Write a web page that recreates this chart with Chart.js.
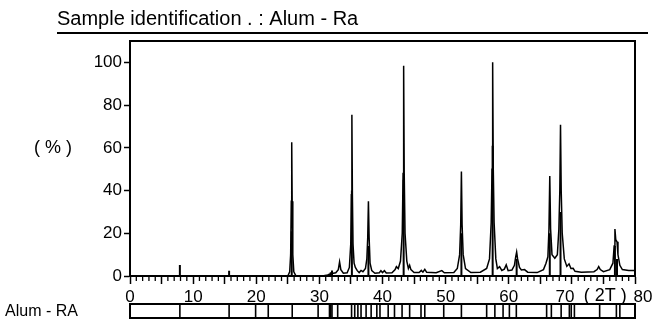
<!DOCTYPE html>
<html>
<head>
<meta charset="utf-8">
<script src="https://cdn.jsdelivr.net/npm/chart.js@4.4.0/dist/chart.umd.min.js"></script>
<style>
	html, body { margin: 0; padding: 0; background: #fff; }
	#wrap { width: 657px; height: 322px; }
</style>
</head>
<body>
<div id="wrap"><canvas id="xrd" width="657" height="322"></canvas></div>
<script>
var titleText = "Sample identification . : Alum - Ra";
var refName = "Alum - RA";

// measured scan: [2theta, relative intensity %]
var profile = [
	[0, 0], [25.0, 0], [25.3, 2], [25.45, 10], [25.55, 35], [25.62, 62.6], [25.69, 35], [25.79, 10], [25.95, 2], [26.3, 0],
	[30.5, 0], [31.3, 0.5], [32.0, 1.2], [32.6, 1.5], [33.0, 3], [33.2, 6.6], [33.4, 3], [33.8, 1.3], [34.4, 1.5],
	[34.75, 4], [34.97, 15], [35.07, 38], [35.15, 75.5], [35.23, 38], [35.33, 15], [35.5, 6], [35.7, 4], [36.0, 2.5],
	[36.3, 1.6], [36.6, 2.6], [36.9, 2], [37.3, 3.5], [37.52, 8], [37.66, 18], [37.77, 35], [37.88, 18], [38.03, 6],
	[38.3, 2.5], [38.8, 1.3], [39.5, 1.5], [39.75, 2.5], [40.0, 1.6], [40.3, 2.5], [40.6, 1.4], [41.5, 1.5],
	[42.0, 3], [42.2, 4.4], [42.5, 3.5], [42.85, 7], [43.13, 20], [43.26, 48], [43.35, 98.4], [43.44, 48], [43.57, 20],
	[43.85, 7], [44.1, 3.5], [44.3, 5], [44.5, 3], [45.0, 1.6], [45.8, 1.6], [46.15, 2.6], [46.4, 1.8], [46.7, 3.1],
	[47.0, 1.7], [48.5, 1.5], [49.4, 2.5], [49.8, 1.5], [51.3, 1.6], [51.85, 3.5], [52.22, 10], [52.39, 24], [52.5, 48.9],
	[52.61, 24], [52.78, 10], [53.15, 3.5], [54.0, 1.6], [55.5, 1.8], [56.5, 3.5], [56.95, 8], [57.22, 25], [57.35, 50],
	[57.45, 100], [57.55, 50], [57.68, 25], [57.95, 8], [58.2, 3.5], [58.55, 4.4], [58.9, 2.6], [59.3, 3.2], [59.6, 5.2],
	[59.9, 2.5], [60.5, 2.8], [60.9, 5], [61.1, 9], [61.25, 11.2], [61.4, 8], [61.7, 4], [62.0, 2.8], [62.5, 3],
	[63.0, 1.8], [64.5, 1.6], [65.5, 3], [65.9, 6], [66.2, 9], [66.37, 22], [66.5, 46.8], [66.63, 22], [66.85, 10],
	[67.3, 8.3], [67.7, 10], [67.94, 22], [68.09, 40], [68.2, 70.8], [68.31, 40], [68.47, 20], [68.8, 8], [69.2, 4.5],
	[69.55, 5.7], [69.85, 3.5], [70.2, 3.6], [70.5, 2.2], [71.5, 1.8], [73.5, 2], [74.0, 3], [74.25, 4.4], [74.5, 3],
	[75.0, 2], [76.0, 3], [76.5, 6], [76.7, 14], [76.82, 22], [76.95, 17], [77.15, 16], [77.3, 10], [77.6, 5],
	[78.0, 3], [79.0, 2.6], [80.0, 2.6]
];

// reference sticks drawn over the scan
var stickPos = [7.9, 15.7, 25.62, 31.6, 31.8, 32.0, 35.15, 37.77, 43.35, 52.5, 57.45, 61.25, 66.5, 68.2, 76.82, 77.15];
var stickInt = [5.2, 2.4, 21, 1.0, 1.8, 2.6, 40, 14, 45, 20, 61, 8, 20, 30, 14, 8];

// line positions in the Alum - RA bar under the axis
var refPos = [7.9, 15.7, 19.9, 21.9, 25.7, 29.8, 31.6, 31.8, 32.0, 32.9, 35.1, 35.6, 36.1, 36.6, 37.4, 38.2,
	39.1, 39.6, 40.9, 41.9, 43.1, 44.3, 46.1, 46.7, 49.7, 52.5, 56.5, 57.8, 59.1, 60.1, 61.2, 66.0, 66.75,
	68.3, 69.6, 69.9, 70.4, 74.4, 77.05, 77.6];

var xLabels = [0, 10, 20, 30, 40, 50, 60];
var yLabels = [0, 20, 40, 60, 80, 100];
var FONT = '"Liberation Sans", Arial, sans-serif';

var stickData = [];
stickPos.forEach(function(p, i) {
	stickData.push({x: p, y: 0}, {x: p, y: stickInt[i]}, {x: p, y: null});
});

function seg(c, x1, y1, x2, y2) {
	c.beginPath(); c.moveTo(x1, y1); c.lineTo(x2, y2); c.stroke();
}

var decor = {
	id: 'decor',
	beforeDraw: function(chart) {
		var c = chart.ctx;
		c.save();
		c.fillStyle = '#fff';
		c.fillRect(0, 0, chart.width, chart.height);
		c.restore();
	},
	afterDraw: function(chart) {
		var c = chart.ctx, a = chart.chartArea, sx = chart.scales.x, sy = chart.scales.y;
		c.save();
		c.fillStyle = '#000';
		c.strokeStyle = '#000';

		// heading and rule
		c.font = '20px ' + FONT;
		c.textAlign = 'left';
		c.textBaseline = 'alphabetic';
		c.fillText(titleText, 57, 25);
		c.lineWidth = 2;
		seg(c, 57, 33, 648, 33);

		// top and right of the frame
		c.beginPath();
		c.moveTo(a.left, a.top);
		c.lineTo(a.right, a.top);
		c.lineTo(a.right, a.bottom + 1);
		c.stroke();

		// minor ticks on 2theta
		c.lineWidth = 1.3;
		for (var v = 0; v <= 80; v++) {
			if (v % 5) {
				var px = sx.getPixelForValue(v);
				seg(c, px, a.bottom, px, a.bottom + 5);
			}
		}

		// axis captions
		c.font = '18px ' + FONT;
		c.textBaseline = 'middle';
		c.fillText('( % )', 34, sy.getPixelForValue(60));
		c.font = '17px ' + FONT;
		c.textAlign = 'center';
		var ly = a.bottom + 21;
		c.fillText('70', sx.getPixelForValue(70) - 7, ly);
		c.font = '18px ' + FONT;
		c.fillText('( 2T )', sx.getPixelForValue(75.3), ly - 1);
		c.font = '17px ' + FONT;
		c.fillText('80', sx.getPixelForValue(80) + 8, ly);

		// reference pattern bar
		var x0 = sx.getPixelForValue(0), x1 = sx.getPixelForValue(80);
		var top = 304, bot = 318;
		c.lineWidth = 2;
		c.strokeRect(x0, top, x1 - x0, bot - top);
		c.lineWidth = 1.6;
		refPos.forEach(function(p) {
			var px = sx.getPixelForValue(p);
			seg(c, px, top, px, bot);
		});
		c.font = '16px ' + FONT;
		c.textAlign = 'left';
		c.fillText(refName, 5, 312);
		c.restore();
	}
};

new Chart(document.getElementById('xrd'), {
	type: 'line',
	data: {
		datasets: [
			{data: profile.map(function(p) { return {x: p[0], y: p[1]}; }),
				borderColor: '#000', borderWidth: 1.5, pointRadius: 0, tension: 0, fill: false},
			{data: stickData, borderColor: '#000', borderWidth: 2, pointRadius: 0, tension: 0, fill: false, spanGaps: false}
		]
	},
	options: {
		responsive: false,
		animation: false,
		devicePixelRatio: 1,
		layout: {padding: {top: 41, right: 22, left: 0, bottom: 0}},
		plugins: {legend: {display: false}, tooltip: {enabled: false}, title: {display: false}},
		scales: {
			x: {
				type: 'linear', min: 0, max: 80,
				border: {color: '#000', width: 2},
				grid: {drawOnChartArea: false, color: '#000', tickLength: 8, tickWidth: 1.5},
				ticks: {
					stepSize: 5, autoSkip: false, maxRotation: 0, padding: 3, color: '#000',
					font: {family: FONT, size: 17},
					callback: function(v) { return xLabels.indexOf(v) >= 0 ? String(v) : ''; }
				},
				afterFit: function(s) { s.height = 46; }
			},
			y: {
				min: 0, max: 110,
				border: {color: '#000', width: 2},
				grid: {drawOnChartArea: false, color: '#000', tickLength: 6, tickWidth: 1.5},
				ticks: {
					stepSize: 10, padding: 2, color: '#000',
					font: {family: FONT, size: 17},
					callback: function(v) { return yLabels.indexOf(v) >= 0 ? String(v) : ''; }
				},
				afterFit: function(s) { s.width = 130; }
			}
		}
	},
	plugins: [decor]
});
</script>
</body>
</html>
